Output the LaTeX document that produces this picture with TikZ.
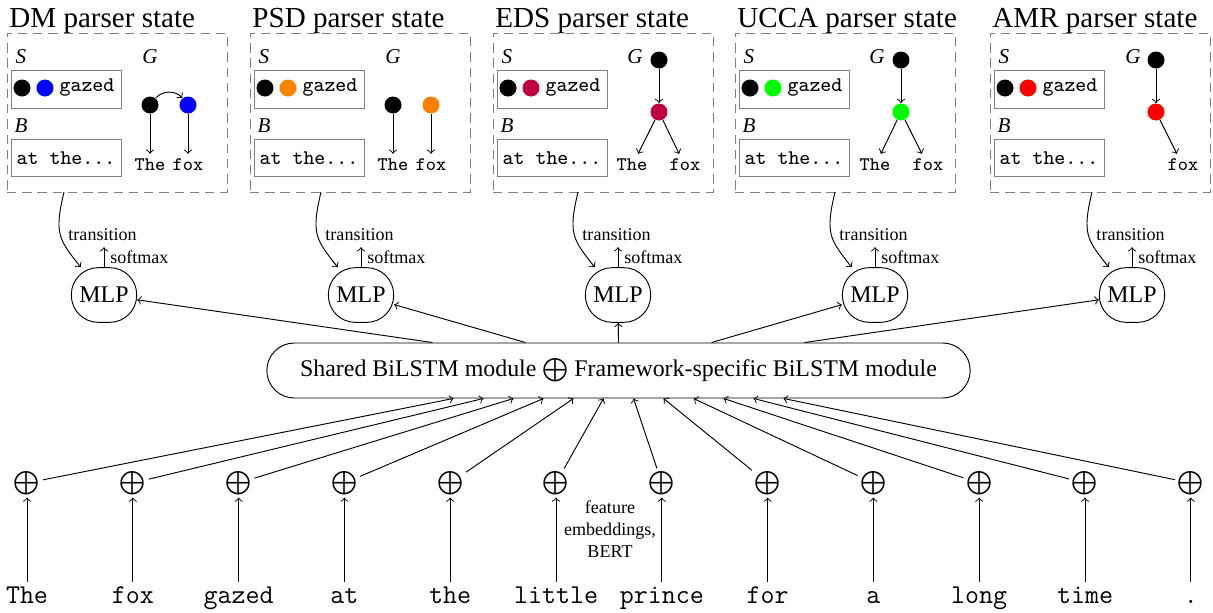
\documentclass[tikz,border=0pt]{standalone}
\usepackage{fontspec}
\setmainfont{Liberation Serif}
\usepackage{tikz}
\usetikzlibrary{arrows,shapes,positioning,calc}
\definecolor{boxgray}{RGB}{128,128,128}

\begin{document}
\begin{tikzpicture}[x=0.015cm, y=-0.015cm,
    title/.style={font=\fontsize{12.4}{14}\selectfont, anchor=base west, inner sep=0pt},
    panel/.style={draw=boxgray, dash pattern=on 4pt off 2.5pt, minimum width=3.3cm, minimum height=2.385cm, inner sep=0pt},
    stack/.style={draw=boxgray, minimum width=1.65cm, minimum height=0.56cm, inner sep=0pt, font=\fontsize{8.9}{10}\selectfont\ttfamily},
    dot/.style={circle, fill=#1, minimum size=0.255cm, inner sep=0pt},
    lbl/.style={font=\fontsize{9}{10}\selectfont\itshape, inner sep=0pt},
    small/.style={font=\fontsize{7.7}{9.4}\selectfont},
    boxtt/.style={font=\fontsize{8.9}{10}\selectfont\ttfamily, inner sep=0pt},
    gtt/.style={font=\fontsize{8.2}{9}\selectfont\ttfamily, text height=5pt, text depth=1pt, inner sep=2pt},
    mlp/.style={draw, rounded corners=11.5pt, minimum width=0.98cm, minimum height=0.82cm, font=\fontsize{10.2}{12}\selectfont, inner sep=0pt},
    lstm/.style={draw, rounded rectangle, minimum width=10.55cm, minimum height=0.825cm, font=\fontsize{10.2}{12}\selectfont, inner sep=0pt},
    word/.style={font=\fontsize{11.6}{13}\selectfont\ttfamily, anchor=base, text height=1.6ex, text depth=0.3ex, inner sep=1.5pt},
    plus/.style={font=\fontsize{12}{12}\selectfont, inner sep=1pt}]
    \useasboundingbox (0,0) rectangle (1213,612);

    % Parser states: stack and buffer
    \foreach \fw/\lx/\col in {DM/7/blue, PSD/250/orange, EDS/493/purple, UCCA/735/green, AMR/990/red} {
        \node[title] (title\fw) at (\lx+2,27) {\fw{} parser state};
        \node[panel] (panel\fw) at (\lx+110,112.5) {};
        \node[lbl] (S\fw) at (\lx+14,57) {S};
        \node[stack] (sbox\fw) at (\lx+59,89.5) {};
        \node[dot=black] (sa\fw) at (\lx+15,88) {};
        \node[dot=\col] (sb\fw) at (\lx+38,88) {};
        \node[boxtt] (gz\fw) at (\lx+80,88) {gazed};
        \node[lbl] (B\fw) at (\lx+14,126) {B};
        \node[stack] (bbox\fw) at (\lx+59,158) {at the...};
    }

    % DM graph
    \node[lbl] (GDM) at (150,57) {G};
    \node[dot=black] (aDM) at (150,105) {};
    \node[dot=blue] (bDM) at (188,105) {};
    \node[gtt] (theDM) at (150,166) {The};
    \node[gtt] (foxDM) at (188,166) {fox};
    \draw[->] (aDM) to[bend left=50] (bDM);
    \draw[->] (aDM) -- (theDM);
    \draw[->] (bDM) -- (foxDM);

    % PSD graph
    \node[lbl] (GPSD) at (393,57) {G};
    \node[dot=black] (aPSD) at (393,105) {};
    \node[dot=orange] (bPSD) at (431,105) {};
    \node[gtt] (thePSD) at (393,166) {The};
    \node[gtt] (foxPSD) at (431,166) {fox};
    \draw[->] (aPSD) -- (thePSD);
    \draw[->] (bPSD) -- (foxPSD);

    % EDS graph
    \node[lbl] (GEDS) at (635,57) {G};
    \node[dot=black] (aEDS) at (659,60) {};
    \node[dot=purple] (bEDS) at (659,112) {};
    \node[gtt] (theEDS) at (632,166) {The};
    \node[gtt] (foxEDS) at (685,166) {fox};
    \draw[->] (aEDS) -- (bEDS);
    \draw[->] (bEDS) -- (theEDS);
    \draw[->] (bEDS) -- (foxEDS);

    % UCCA graph
    \node[lbl] (GUCCA) at (877,57) {G};
    \node[dot=black] (aUCCA) at (901,60) {};
    \node[dot=green] (bUCCA) at (901,112) {};
    \node[gtt] (theUCCA) at (875,166) {The};
    \node[gtt] (foxUCCA) at (928,166) {fox};
    \draw[->] (aUCCA) -- (bUCCA);
    \draw[->] (bUCCA) -- (theUCCA);
    \draw[->] (bUCCA) -- (foxUCCA);

    % AMR graph
    \node[lbl] (GAMR) at (1133,57) {G};
    \node[dot=black] (aAMR) at (1156,60) {};
    \node[dot=red] (bAMR) at (1156,112) {};
    \node[gtt] (foxAMR) at (1183,166) {fox};
    \draw[->] (aAMR) -- (bAMR);
    \draw[->] (bAMR) -- (foxAMR);

    % Shared encoder
    \node[lstm] (lstm) at (618.5,370.5) {Shared BiLSTM module $\bigoplus$ Framework-specific BiLSTM module};

    % MLPs
    \foreach \fw/\x [count=\i] in {DM/104, PSD/361, EDS/618, UCCA/875, AMR/1132} {
        \node[mlp] (mlp\fw) at (\x,295) {MLP};
        \coordinate (t\fw) at (\x-40,192);
        \draw[->] (t\fw) .. controls +(-10,42) and +(-22,-28) .. (mlp\fw.130);
        \node[small, anchor=west, inner sep=0pt] (tr\fw) at (\x-36,235) {transition};
        \draw[->] (mlp\fw.north) -- ++(0,-20) node[small, midway, right, inner sep=2.5pt] (sm\fw) {softmax};
        \draw[->] ($(lstm.north)+({(\i-3)*93},0)$) -- (mlp\fw);
    }

    % Input tokens
    \foreach \w [count=\i] in {The,fox,gazed,at,the,little,prince,for,a,long,time,.} {
        \node[word] (w\i) at ({27+105.8*(\i-1)},603) {\w};
        \node[plus] (p\i) at ({27+105.8*(\i-1)},483) {$\bigoplus$};
        \draw[->] (w\i) -- (p\i);
        \draw[->] (p\i) -- ($(lstm.south)+({(\i-6.5)*30},0)$);
    }
    \node[small, align=center] (feat) at (610,529) {feature\\embeddings,\\BERT};
\end{tikzpicture}
\end{document}
